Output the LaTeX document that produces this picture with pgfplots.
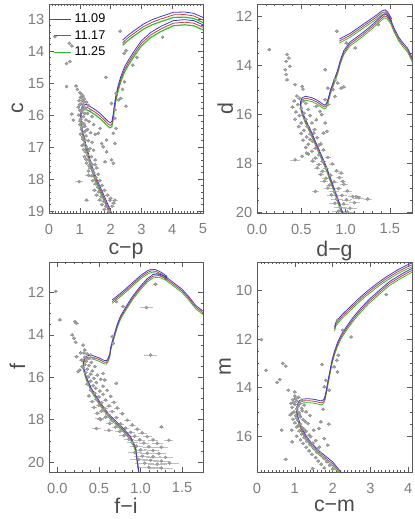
\documentclass[border=0pt]{standalone}
\usepackage{fontspec}
\setmainfont{Liberation Sans}
\usepackage{pgfplots}
\usepackage{pgfplotstable}
\pgfplotsset{compat=1.18}

\definecolor{isoblue}{RGB}{60,60,210}
\definecolor{isored}{RGB}{200,60,60}
\definecolor{isogreen}{RGB}{50,190,50}
\definecolor{ptgray}{RGB}{165,165,165}
\definecolor{ptedge}{RGB}{140,140,140}
\definecolor{errgray}{RGB}{190,190,190}
\definecolor{framegray}{RGB}{90,90,90}
\definecolor{labgray}{RGB}{125,125,125}

% isochrones: colour, then blue / red / green magnitudes (11.09, 11.17, 11.25)
\pgfplotstableread{
x b r g
2.12 19.30 19.38 19.46
2.03 19.06 19.14 19.22
1.85 18.65 18.73 18.81
1.66 18.24 18.32 18.40
1.50 17.88 17.96 18.04
1.38 17.55 17.63 17.71
1.28 17.20 17.28 17.36
1.18 16.85 16.93 17.01
1.10 16.52 16.60 16.68
1.05 16.25 16.33 16.41
1.03 16.00 16.08 16.16
1.05 15.80 15.88 15.96
1.09 15.70 15.78 15.86
1.15 15.66 15.74 15.82
1.24 15.68 15.76 15.84
1.35 15.74 15.82 15.90
1.50 15.83 15.91 15.99
1.66 15.95 16.03 16.11
1.80 16.08 16.16 16.24
1.90 16.18 16.26 16.34
1.98 16.24 16.32 16.40
2.04 16.20 16.28 16.36
2.08 16.00 16.08 16.16
2.12 15.70 15.78 15.86
2.17 15.40 15.48 15.56
2.24 15.10 15.18 15.26
2.33 14.80 14.88 14.96
2.45 14.50 14.58 14.66
2.60 14.25 14.33 14.41
2.78 13.98 14.06 14.14
3.00 13.68 13.76 13.84
3.30 13.42 13.50 13.58
3.65 13.22 13.30 13.38
4.04 13.05 13.13 13.21
4.40 13.02 13.10 13.18
4.70 13.05 13.13 13.21
5.00 13.18 13.26 13.34
5.40 13.45 13.53 13.61
nan nan nan nan
2.39 13.66 13.74 13.82
2.55 13.52 13.60 13.68
2.74 13.38 13.46 13.54
3.06 13.16 13.24 13.32
3.35 13.02 13.10 13.18
3.60 12.93 13.01 13.09
4.04 12.79 12.87 12.95
4.40 12.78 12.86 12.94
4.69 12.82 12.90 12.98
5.00 12.95 13.03 13.11
5.40 13.20 13.28 13.36
}\isoA

\pgfplotstableread{
x b r g
1.00 20.40 20.48 20.56
0.97 20.03 20.11 20.19
0.90 19.30 19.38 19.46
0.83 18.60 18.68 18.76
0.78 18.10 18.18 18.26
0.72 17.60 17.68 17.76
0.66 17.10 17.18 17.26
0.60 16.60 16.68 16.76
0.54 16.15 16.23 16.31
0.50 15.75 15.83 15.91
0.49 15.50 15.58 15.66
0.51 15.32 15.40 15.48
0.55 15.26 15.34 15.42
0.62 15.32 15.40 15.48
0.68 15.42 15.50 15.58
0.73 15.55 15.63 15.71
0.76 15.62 15.70 15.78
0.78 15.58 15.66 15.74
0.80 15.40 15.48 15.56
0.83 15.00 15.08 15.16
0.87 14.60 14.68 14.76
0.91 14.20 14.28 14.36
0.94 13.80 13.88 13.96
0.98 13.40 13.48 13.56
1.05 13.05 13.13 13.21
1.19 12.68 12.76 12.84
1.30 12.35 12.43 12.51
1.40 12.02 12.10 12.18
1.44 11.90 11.98 12.06
1.47 11.95 12.03 12.11
1.51 12.15 12.23 12.31
1.55 12.50 12.58 12.66
1.60 12.85 12.93 13.01
1.64 13.05 13.13 13.21
1.70 13.30 13.38 13.46
1.76 13.75 13.83 13.91
1.85 14.20 14.28 14.36
nan nan nan nan
0.93 12.93 13.01 13.09
1.05 12.70 12.78 12.86
1.15 12.45 12.53 12.61
1.25 12.20 12.28 12.36
1.35 11.95 12.03 12.11
1.41 11.78 11.86 11.94
1.45 11.74 11.82 11.90
1.48 11.85 11.93 12.01
1.52 12.10 12.18 12.26
}\isoB

\pgfplotstableread{
x b r g
1.00 20.80 20.88 20.96
0.98 20.47 20.55 20.63
0.94 19.30 19.38 19.46
0.88 18.80 18.88 18.96
0.79 18.40 18.48 18.56
0.70 18.05 18.13 18.21
0.62 17.75 17.83 17.91
0.51 17.16 17.24 17.32
0.41 16.53 16.61 16.69
0.35 16.00 16.08 16.16
0.32 15.60 15.68 15.76
0.31 15.27 15.35 15.43
0.33 15.05 15.13 15.21
0.37 14.97 15.05 15.13
0.43 14.98 15.06 15.14
0.50 15.08 15.16 15.24
0.56 15.20 15.28 15.36
0.59 15.22 15.30 15.38
0.61 15.10 15.18 15.26
0.63 14.90 14.98 15.06
0.64 14.60 14.68 14.76
0.66 14.30 14.38 14.46
0.69 13.90 13.98 14.06
0.72 13.50 13.58 13.66
0.76 13.10 13.18 13.26
0.82 12.70 12.78 12.86
0.90 12.20 12.28 12.36
1.00 11.70 11.78 11.86
1.08 11.35 11.43 11.51
1.15 11.15 11.23 11.31
1.22 11.12 11.20 11.28
1.30 11.25 11.33 11.41
1.40 11.55 11.63 11.71
1.50 11.85 11.93 12.01
1.58 12.20 12.28 12.36
1.66 12.60 12.68 12.76
1.74 12.85 12.93 13.01
1.85 13.00 13.08 13.16
nan nan nan nan
0.66 12.35 12.43 12.51
0.74 12.10 12.18 12.26
0.83 11.80 11.88 11.96
0.92 11.48 11.56 11.64
1.00 11.20 11.28 11.36
1.08 10.98 11.06 11.14
1.13 10.90 10.98 11.06
1.18 10.92 11.00 11.08
1.25 11.05 11.13 11.21
1.32 11.25 11.33 11.41
}\isoC

\pgfplotstableread{
x b r g
2.35 17.70 17.78 17.86
2.22 17.47 17.55 17.63
2.00 17.05 17.13 17.21
1.80 16.80 16.88 16.96
1.64 16.60 16.68 16.76
1.45 16.30 16.38 16.46
1.29 15.96 16.04 16.12
1.18 15.65 15.73 15.81
1.11 15.35 15.43 15.51
1.06 15.05 15.13 15.21
1.05 14.85 14.93 15.01
1.08 14.65 14.73 14.81
1.13 14.53 14.61 14.69
1.22 14.47 14.55 14.63
1.35 14.46 14.54 14.62
1.50 14.48 14.56 14.64
1.62 14.52 14.60 14.68
1.70 14.55 14.63 14.71
1.76 14.50 14.58 14.66
1.80 14.35 14.43 14.51
1.84 14.05 14.13 14.21
1.88 13.70 13.78 13.86
1.93 13.30 13.38 13.46
1.98 12.90 12.98 13.06
2.05 12.50 12.58 12.66
2.13 12.15 12.23 12.31
2.22 11.85 11.93 12.01
2.36 11.51 11.59 11.67
2.55 11.10 11.18 11.26
2.71 10.80 10.88 10.96
2.95 10.40 10.48 10.56
3.24 10.00 10.08 10.16
3.50 9.65 9.73 9.81
3.78 9.38 9.46 9.54
4.04 9.15 9.23 9.31
4.40 8.90 8.98 9.06
nan nan nan nan
2.05 11.52 11.60 11.68
2.09 11.30 11.38 11.46
2.25 11.00 11.08 11.16
2.44 10.72 10.80 10.88
2.65 10.40 10.48 10.56
2.89 10.07 10.15 10.23
3.15 9.75 9.83 9.91
3.42 9.45 9.53 9.61
3.70 9.18 9.26 9.34
3.96 8.97 9.05 9.13
4.30 8.75 8.83 8.91
}\isoD

% stars: colour, magnitude, colour error
\pgfplotstableread{
x y ex
0.19 13.55 0.02
0.57 14.39 0.02
0.68 14.33 0.02
0.66 13.76 0.02
0.74 13.84 0.02
0.57 15.11 0.02
0.88 15.09 0.02
0.92 15.20 0.02
0.74 15.97 0.02
0.79 16.16 0.02
1.85 14.82 0.02
2.31 13.38 0.02
2.45 13.74 0.02
2.50 13.99 0.02
2.44 14.07 0.02
2.72 14.44 0.02
2.85 14.20 0.02
3.69 13.57 0.02
2.45 14.96 0.02
2.39 15.20 0.02
2.18 15.32 0.02
2.26 15.53 0.02
2.50 15.72 0.02
2.33 15.48 0.02
2.14 15.84 0.02
2.03 15.64 0.02
2.14 16.10 0.02
2.18 16.42 0.02
2.09 16.57 0.02
1.87 16.78 0.02
2.14 16.89 0.02
1.82 17.46 0.02
2.03 17.40 0.02
2.09 17.51 0.02
1.71 16.89 0.02
1.60 16.57 0.02
1.66 16.42 0.02
1.76 16.99 0.02
1.87 17.15 0.02
0.98 18.08 0.09
1.28 17.88 0.06
1.22 18.66 0.05
1.98 18.66 0.04
2.14 18.66 0.05
2.05 18.85 0.05
1.00 15.30 0.02
1.05 15.35 0.02
1.10 15.40 0.02
1.02 15.45 0.02
0.98 15.55 0.02
1.08 15.55 0.02
1.15 15.50 0.02
1.22 15.60 0.02
1.04 15.65 0.02
1.12 15.68 0.02
0.95 15.75 0.02
1.28 15.70 0.02
1.18 15.80 0.02
1.00 15.85 0.02
1.07 15.90 0.02
1.35 15.85 0.02
1.25 15.95 0.02
0.97 16.00 0.02
1.12 16.05 0.02
1.40 16.05 0.02
1.03 16.12 0.02
1.20 16.15 0.02
1.30 16.20 0.02
1.08 16.25 0.02
1.00 16.30 0.02
1.16 16.35 0.02
1.45 16.30 0.02
1.05 16.45 0.02
1.25 16.45 0.02
1.12 16.55 0.02
1.35 16.55 0.02
1.02 16.60 0.02
1.20 16.65 0.02
1.50 16.60 0.02
1.10 16.75 0.02
1.28 16.80 0.02
1.15 16.90 0.02
1.40 16.85 0.02
1.08 16.95 0.02
1.22 17.00 0.02
1.33 17.05 0.02
1.18 17.15 0.02
1.45 17.10 0.02
1.25 17.25 0.02
1.15 17.30 0.02
1.38 17.30 0.02
1.30 17.40 0.02
1.50 17.40 0.02
1.22 17.50 0.02
1.40 17.55 0.02
1.33 17.65 0.02
1.55 17.65 0.02
1.28 17.75 0.02
1.45 17.80 0.02
1.60 17.85 0.02
1.38 17.90 0.03
1.52 17.95 0.03
1.42 18.05 0.03
1.65 18.05 0.03
1.50 18.15 0.03
1.58 18.25 0.03
1.72 18.20 0.03
1.48 18.35 0.03
1.62 18.40 0.03
1.80 18.35 0.03
1.55 18.50 0.04
1.70 18.55 0.04
1.90 18.50 0.04
1.65 18.65 0.04
1.78 18.70 0.04
2.00 18.60 0.04
1.72 18.80 0.04
1.85 18.85 0.04
2.10 18.75 0.04
1.80 18.95 0.04
1.95 19.00 0.04
1.06 15.45 0.02
1.13 15.58 0.02
0.99 15.68 0.02
1.09 15.82 0.02
1.16 15.95 0.02
1.01 16.18 0.02
1.14 16.28 0.02
1.07 16.38 0.02
1.18 16.50 0.02
1.09 16.68 0.02
1.17 16.78 0.02
1.12 17.08 0.02
1.28 17.12 0.02
1.20 17.38 0.02
1.35 17.48 0.02
1.30 17.58 0.02
1.50 17.55 0.02
1.42 17.70 0.02
}\ptsA

\pgfplotstableread{
x y ex
0.14 13.36 0.01
0.32 14.18 0.01
0.34 13.56 0.01
0.36 13.70 0.01
0.33 13.84 0.01
0.37 14.04 0.01
0.33 14.38 0.01
0.34 14.59 0.01
0.43 14.79 0.01
0.51 14.86 0.01
0.52 14.97 0.01
0.77 14.18 0.01
0.90 12.61 0.01
1.01 13.09 0.01
1.11 13.29 0.01
1.37 12.34 0.01
0.88 14.59 0.01
0.91 14.72 0.01
0.95 14.93 0.01
0.98 14.88 0.01
0.86 14.99 0.01
0.80 14.93 0.01
0.88 15.27 0.01
0.77 15.40 0.01
0.80 15.60 0.02
0.67 15.67 0.02
0.71 15.88 0.01
0.73 16.01 0.01
0.67 16.22 0.01
0.77 16.35 0.01
0.79 16.69 0.01
0.75 16.76 0.01
0.64 16.76 0.01
0.60 17.03 0.01
0.70 17.25 0.02
0.56 17.58 0.01
0.51 17.71 0.01
0.43 17.85 0.04
0.66 19.14 0.03
0.95 18.39 0.02
0.97 18.73 0.02
1.12 19.35 0.04
1.25 19.45 0.03
0.45 15.25 0.01
0.48 15.35 0.01
0.42 15.45 0.01
0.52 15.45 0.01
0.46 15.60 0.01
0.55 15.55 0.01
0.40 15.70 0.01
0.50 15.75 0.01
0.58 15.80 0.01
0.44 15.90 0.01
0.53 15.95 0.01
0.48 16.05 0.01
0.60 16.05 0.01
0.43 16.20 0.01
0.55 16.20 0.01
0.50 16.35 0.01
0.62 16.35 0.01
0.47 16.50 0.01
0.57 16.50 0.01
0.53 16.65 0.01
0.65 16.62 0.01
0.50 16.78 0.01
0.60 16.80 0.01
0.56 16.92 0.01
0.68 16.95 0.01
0.52 17.05 0.01
0.63 17.10 0.01
0.58 17.22 0.01
0.72 17.20 0.01
0.55 17.35 0.01
0.66 17.38 0.01
0.62 17.50 0.01
0.75 17.45 0.01
0.58 17.62 0.01
0.70 17.65 0.01
0.66 17.78 0.02
0.80 17.75 0.02
0.63 17.90 0.02
0.74 17.92 0.02
0.70 18.05 0.02
0.85 18.02 0.02
0.68 18.18 0.02
0.78 18.20 0.02
0.74 18.32 0.02
0.90 18.30 0.02
0.72 18.45 0.02
0.83 18.48 0.02
0.78 18.60 0.03
0.93 18.58 0.03
0.76 18.72 0.03
0.87 18.75 0.03
0.82 18.88 0.03
0.98 18.85 0.03
0.80 19.00 0.03
0.92 19.02 0.03
0.87 19.15 0.04
1.02 19.12 0.04
0.84 19.28 0.04
0.96 19.30 0.04
1.08 19.35 0.04
0.90 19.45 0.05
1.01 19.48 0.05
1.15 19.40 0.05
0.88 19.62 0.05
0.98 19.65 0.05
1.10 19.60 0.05
0.94 19.80 0.06
1.05 19.82 0.06
0.92 19.95 0.06
1.02 19.97 0.06
}\ptsB

\pgfplotstableread{
x y ex
-0.02 11.95 0.01
0.03 13.29 0.01
0.21 13.37 0.01
0.23 13.45 0.01
0.18 14.00 0.01
0.20 14.16 0.01
0.22 14.35 0.01
0.31 14.48 0.01
0.33 14.71 0.01
0.23 15.03 0.01
0.29 15.19 0.01
0.30 15.50 0.01
0.27 15.66 0.01
0.25 15.74 0.01
0.55 15.82 0.01
0.57 16.13 0.01
0.71 16.29 0.01
0.67 14.40 0.01
0.66 14.08 0.01
0.79 12.66 0.01
0.71 12.43 0.01
1.07 12.71 0.06
1.18 11.61 0.02
1.12 14.95 0.06
1.25 18.34 0.02
1.34 18.97 0.04
0.51 17.95 0.04
0.47 18.42 0.04
0.62 18.50 0.04
0.28 14.85 0.01
0.32 14.85 0.01
0.36 14.90 0.01
0.40 14.95 0.01
0.33 15.05 0.01
0.38 15.10 0.01
0.44 15.12 0.01
0.30 15.20 0.01
0.35 15.25 0.01
0.41 15.30 0.01
0.33 15.40 0.01
0.38 15.45 0.01
0.45 15.50 0.01
0.31 15.55 0.01
0.36 15.62 0.01
0.42 15.70 0.01
0.34 15.78 0.01
0.40 15.85 0.01
0.48 15.90 0.01
0.37 15.98 0.01
0.44 16.05 0.01
0.52 16.10 0.01
0.40 16.18 0.01
0.47 16.25 0.01
0.36 16.32 0.01
0.43 16.40 0.01
0.55 16.42 0.01
0.46 16.52 0.01
0.40 16.60 0.01
0.51 16.65 0.01
0.60 16.62 0.01
0.45 16.75 0.01
0.55 16.80 0.01
0.38 16.88 0.01
0.50 16.92 0.01
0.64 16.90 0.01
0.47 17.05 0.02
0.58 17.08 0.02
0.42 17.15 0.02
0.53 17.20 0.02
0.68 17.18 0.02
0.50 17.32 0.02
0.62 17.35 0.02
0.44 17.42 0.02
0.57 17.48 0.02
0.72 17.45 0.02
0.53 17.60 0.02
0.66 17.62 0.02
0.48 17.70 0.02
0.61 17.75 0.02
0.78 17.72 0.02
0.58 17.88 0.02
0.71 17.90 0.02
0.52 18.00 0.03
0.66 18.05 0.03
0.84 18.02 0.03
0.63 18.18 0.03
0.76 18.20 0.03
0.90 18.25 0.03
0.70 18.35 0.03
0.82 18.40 0.03
0.96 18.45 0.03
0.75 18.55 0.04
0.88 18.60 0.04
1.02 18.62 0.04
0.80 18.75 0.04
0.93 18.78 0.04
1.08 18.80 0.04
0.86 18.92 0.05
0.99 18.95 0.05
1.15 18.95 0.05
0.90 19.08 0.05
1.04 19.10 0.05
1.20 19.12 0.05
0.95 19.25 0.06
1.10 19.28 0.06
1.25 19.30 0.06
1.00 19.42 0.06
1.15 19.45 0.06
0.93 19.55 0.07
1.08 19.58 0.07
1.22 19.60 0.07
1.02 19.72 0.08
1.15 19.75 0.08
1.30 19.78 0.08
0.98 19.88 0.09
1.12 19.92 0.09
1.25 19.95 0.09
1.05 20.05 0.10
1.20 20.10 0.10
1.35 20.05 0.10
1.10 20.25 0.12
1.25 20.28 0.12
}\ptsC

\pgfplotstableread{
x y ex
0.12 12.03 0.02
0.24 13.29 0.02
0.53 13.79 0.02
0.60 13.67 0.02
0.68 13.01 0.02
0.76 13.12 0.02
0.83 14.11 0.02
1.00 14.18 0.02
1.72 13.05 0.02
2.13 11.23 0.02
2.27 11.64 0.02
2.49 11.92 0.02
3.42 10.18 0.02
2.15 12.67 0.02
2.11 12.88 0.02
2.04 13.15 0.02
2.13 13.36 0.02
1.82 13.70 0.02
1.91 14.11 0.02
1.78 13.97 0.02
1.75 14.89 0.02
1.69 15.41 0.02
1.64 15.68 0.02
1.78 16.10 0.02
1.87 16.37 0.02
0.76 16.95 0.03
0.93 16.23 0.02
0.65 15.75 0.02
1.47 17.33 0.02
1.90 15.50 0.02
1.00 14.35 0.02
1.10 14.40 0.02
0.95 14.50 0.02
1.05 14.55 0.02
1.18 14.52 0.02
0.90 14.65 0.02
1.00 14.70 0.02
1.12 14.68 0.02
1.25 14.72 0.02
0.93 14.82 0.02
1.05 14.88 0.02
1.18 14.85 0.02
0.98 15.00 0.02
1.10 15.02 0.02
1.30 15.00 0.02
0.88 15.12 0.02
1.02 15.15 0.02
1.15 15.20 0.02
1.40 15.15 0.02
0.95 15.30 0.02
1.08 15.35 0.02
1.22 15.32 0.02
1.00 15.45 0.02
1.15 15.50 0.02
1.35 15.48 0.02
1.05 15.62 0.02
1.20 15.65 0.02
0.92 15.75 0.02
1.12 15.78 0.02
1.30 15.80 0.02
1.50 15.75 0.02
1.18 15.92 0.02
1.05 16.00 0.02
1.25 16.05 0.02
1.42 16.02 0.02
1.15 16.15 0.02
1.32 16.20 0.02
1.55 16.18 0.02
1.22 16.30 0.02
1.40 16.35 0.02
1.30 16.45 0.02
1.50 16.50 0.02
1.65 16.45 0.02
1.38 16.60 0.02
1.58 16.65 0.02
1.45 16.75 0.02
1.70 16.78 0.02
1.55 16.88 0.02
1.78 16.92 0.02
1.62 17.02 0.02
1.85 17.05 0.02
1.70 17.15 0.02
1.92 17.20 0.02
1.78 17.30 0.02
2.00 17.35 0.02
1.02 14.45 0.02
0.97 14.60 0.02
1.08 14.78 0.02
1.20 14.95 0.02
0.93 15.05 0.02
1.12 15.10 0.02
1.05 15.25 0.02
1.28 15.40 0.02
1.10 15.55 0.02
1.25 15.72 0.02
1.38 15.95 0.02
1.30 16.10 0.02
1.48 16.28 0.02
1.60 16.55 0.02
1.68 16.70 0.02
}\ptsD

\pgfplotsset{
  cmd/.style={
    scale only axis,
    y dir=reverse,
    axis line style={framegray, line width=0.5pt},
    tick style={framegray, line width=0.4pt},
    major tick length=3.5pt,
    minor tick length=1.8pt,
    tick align=inside,
    ticklabel style={font=\fontsize{11}{12}\selectfont, text=labgray},
    every x tick label/.append style={anchor=center, inner sep=0.5pt, yshift=-12pt},
    /pgf/number format/assume math mode=true,
    every axis x label/.style={at={(axis description cs:0.5,0)}, anchor=center, inner sep=0pt, yshift=-28.5pt, font=\fontsize{16}{18}\selectfont, text=black!70},
    every axis y label/.style={at={(axis description cs:-0.205,0.5)}, anchor=center, inner sep=0pt, rotate=90, font=\fontsize{16}{18}\selectfont, text=black!70},
    unbounded coords=jump,
  },
  bottomrow/.style={every axis x label/.append style={yshift=3pt}},
  pts/.style={only marks, mark=*, mark size=1.15pt, color=ptgray,
    mark options={fill=ptgray, draw=ptedge, line width=0.3pt},
    error bars/x dir=both, error bars/x explicit,
    error bars/error bar style={errgray, line width=0.35pt},
    error bars/error mark options={errgray, mark size=0.9pt}},
  iso/.style={line width=0.6pt},
}

\begin{document}
\begin{tikzpicture}
\useasboundingbox (0,0) rectangle (311.25pt,389.25pt);

% c vs c-p
\begin{axis}[cmd, at={(36.75pt,229.5pt)}, anchor=south west,
  width=115.5pt, height=156.75pt,
  xmin=0, xmax=5, ymin=12.53, ymax=19.06,
  xtick={0,1,2,3,4,5}, ytick={13,14,15,16,17,18,19},
  minor x tick num=9, minor y tick num=4,
  xlabel={c−p}, ylabel={c},
  reverse legend,
  legend style={at={(axis description cs:0.02,0.975)}, anchor=north west, draw=none, fill=none,
    font=\fontsize{9.5}{11}\selectfont, row sep=0.5pt, inner sep=1pt},
  legend image code/.code={\draw[#1] (0pt,0pt) -- (12.75pt,0pt);},
]
\addplot+[forget plot, pts] table[x=x, y=y, x error=ex] {\ptsA};
\addplot[iso, isogreen, line width=0.9pt] table[x=x, y=g] {\isoA};
\addlegendentry{11.25}
\addplot[iso, isored] table[x=x, y=r] {\isoA};
\addlegendentry{11.17}
\addplot[iso, isoblue] table[x=x, y=b] {\isoA};
\addlegendentry{11.09}
\end{axis}

% d vs d-g
\begin{axis}[cmd, at={(192.75pt,229.5pt)}, anchor=south west,
  width=116.25pt, height=156.75pt,
  xmin=0, xmax=1.75, ymin=11.5, ymax=20.02,
  xtick={0,0.5,1,1.5}, ytick={12,14,16,18,20},
  xticklabel style={/pgf/number format/.cd, fixed, fixed zerofill, precision=1},
  minor x tick num=4, minor y tick num=3,
  xlabel={d−g}, ylabel={d},
]
\addplot+[pts] table[x=x, y=y, x error=ex] {\ptsB};
\addplot[iso, isogreen] table[x=x, y=g] {\isoB};
\addplot[iso, isored] table[x=x, y=r] {\isoB};
\addplot[iso, isoblue] table[x=x, y=b] {\isoB};
\end{axis}

% f vs f-i
\begin{axis}[cmd, bottomrow, at={(36.75pt,35.25pt)}, anchor=south west,
  width=115.5pt, height=157.5pt,
  xmin=-0.1, xmax=1.75, ymin=10.56, ymax=20.47,
  xtick={0,0.5,1,1.5}, ytick={12,14,16,18,20},
  xticklabel style={/pgf/number format/.cd, fixed, fixed zerofill, precision=1},
  minor x tick num=4, minor y tick num=3,
  xlabel={f−i}, ylabel={f},
]
\addplot+[pts] table[x=x, y=y, x error=ex] {\ptsC};
\addplot[iso, isogreen] table[x=x, y=g] {\isoC};
\addplot[iso, isored] table[x=x, y=r] {\isoC};
\addplot[iso, isoblue] table[x=x, y=b] {\isoC};
\end{axis}

% m vs c-m
\begin{axis}[cmd, bottomrow, at={(192.75pt,35.25pt)}, anchor=south west,
  width=116.25pt, height=157.5pt,
  xmin=0, xmax=4.1, ymin=8.84, ymax=17.47,
  xtick={0,1,2,3,4}, ytick={10,12,14,16},
  minor x tick num=9, minor y tick num=3,
  xlabel={c−m}, ylabel={m},
]
\addplot+[pts] table[x=x, y=y, x error=ex] {\ptsD};
\addplot[iso, isogreen] table[x=x, y=g] {\isoD};
\addplot[iso, isored] table[x=x, y=r] {\isoD};
\addplot[iso, isoblue] table[x=x, y=b] {\isoD};
\end{axis}
\end{tikzpicture}
\end{document}
